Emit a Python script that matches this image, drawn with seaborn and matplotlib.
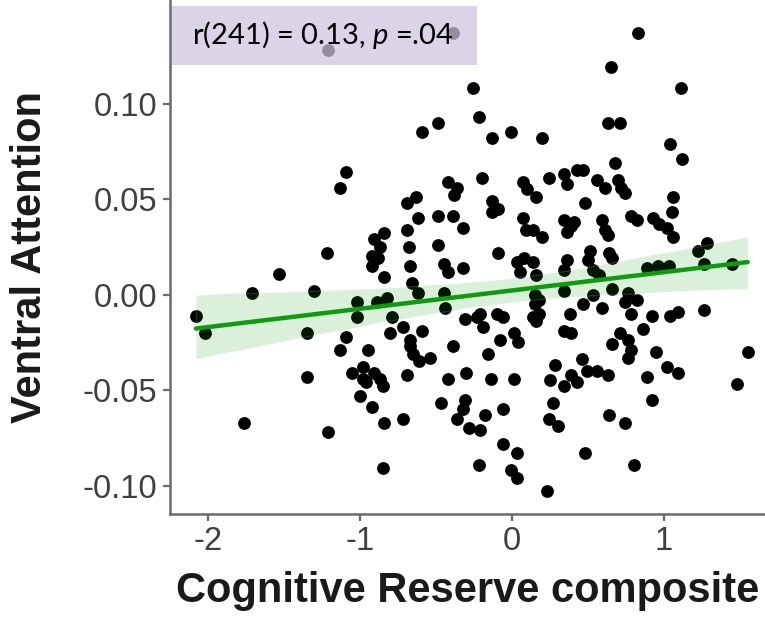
import numpy as np
import pandas as pd
import matplotlib
matplotlib.use('Agg')
import matplotlib.pyplot as plt
from matplotlib.patches import Rectangle
import seaborn as sns

# data: cognitive reserve composite vs ventral attention
cr_composite = [
    -2.08, -2.02, -1.71, -1.53, -1.30, -1.22, -1.35, -1.35, -1.76, -1.21,
    -1.21, -0.39, 0.83, 0.65, 1.11, -0.26, -0.22, 0.63, 0.71,
    -0.59, -0.49, -0.13, -0.01, -1.09, -1.13, -0.63, -0.69, -0.62, -0.49,
    -0.39, -0.42, -0.36, -0.38, -0.20, -0.13, -0.09, -0.13, 0.07, 0.10,
    -0.32, -0.91, -0.84, -0.87, -0.92, -0.92, -0.69, -0.68, -0.49, -0.67,
    -0.45, -0.42, -0.32, -0.09, 0.07, 0.09, 0.03, 0.08, 0.05, -0.84,
    -0.66, -0.62, -0.45, -0.89, -0.82,
    0.20, 1.04, 1.12, 0.68, 0.16, 0.24, 0.34, 0.36, 0.43, 0.47,
    0.56, 0.61, 0.70, 0.72, 0.74, 1.06, 0.48, 0.14, 0.20, 0.34,
    0.41, 0.36, 0.39, 0.59, 0.61, 0.63, 0.78, 0.82, 0.93, 0.97,
    1.02, 1.06, 1.05, 0.14, 0.16, 0.36, 0.34, 0.51, 0.50, 0.53,
    0.57, 0.64, 0.66, 0.89, 0.96, 1.03, 1.28, 1.22, 1.26, 0.15,
    0.34, 0.53, 0.66, 0.76,
    1.45, 1.55, 1.48,
    -1.02, -1.02, -0.79, -0.80, -0.72, -0.59, -0.44, -1.09, -1.13, -0.95,
    -0.67, -0.67, -0.65, -0.61, -0.54, -0.39, -0.31, -0.23, -0.19, -0.21,
    -0.10, -0.06, 0.01, 0.04, -0.08, -0.16, -1.05, -0.98, -0.91, -0.87,
    -0.85, -0.98, -0.69, -0.42, -0.30, -0.14, 0.01, -1.00, -0.92, -0.84,
    -0.72, -0.47, -0.31, -0.32, -0.36, -0.18, -0.06, -0.28, -0.21, -0.06,
    0.03, -0.85, -0.22, -0.01, 0.03,
    0.15, 0.18, 0.14, 0.38, 0.47, 0.59, 0.74, 0.78, 0.82, 0.92,
    0.86, 1.04, 1.09, 1.26, 0.34, 0.39, 0.71, 0.76, 0.66, 0.78,
    0.76, 0.95, 1.02, 1.09, 0.89, 0.92, 0.28, 0.25, 0.34, 0.43,
    0.46, 0.49, 0.56, 0.63, 0.27, 0.24, 0.30, 0.64, 0.74, 0.48,
    0.80, 0.23,
    -0.96, 0.18, 0.16, -0.88, 0.39,
]
ventral_attention = [
    -0.011, -0.020, 0.001, 0.011, 0.002, 0.022, -0.020, -0.043, -0.067, -0.072,
    0.128, 0.137, 0.137, 0.119, 0.108, 0.108, 0.093, 0.090, 0.090,
    0.085, 0.090, 0.082, 0.085, 0.064, 0.056, 0.051, 0.048, 0.040, 0.041,
    0.041, 0.059, 0.056, 0.052, 0.061, 0.049, 0.045, 0.043, 0.059, 0.055,
    0.035, 0.029, 0.032, 0.025, 0.020, 0.015, 0.034, 0.025, 0.026, 0.015,
    0.016, 0.012, 0.014, 0.022, 0.040, 0.034, 0.017, 0.019, 0.012, 0.009,
    0.006, 0.001, 0.001, -0.004, -0.002,
    0.082, 0.079, 0.071, 0.069, 0.051, 0.061, 0.063, 0.058, 0.065, 0.065,
    0.060, 0.056, 0.060, 0.056, 0.053, 0.051, 0.048, 0.034, 0.030, 0.039,
    0.038, 0.033, 0.036, 0.039, 0.034, 0.031, 0.041, 0.039, 0.040, 0.037,
    0.035, 0.030, 0.043, 0.017, 0.010, 0.018, 0.013, 0.023, 0.018, 0.013,
    0.010, 0.022, 0.019, 0.014, 0.015, 0.015, 0.027, 0.023, 0.016, 0.000,
    0.002, 0.000, 0.003, 0.001,
    0.016, -0.030, -0.047,
    -0.004, -0.012, -0.012, -0.020, -0.017, -0.019, -0.007, -0.022, -0.029, -0.029,
    -0.024, -0.027, -0.031, -0.035, -0.033, -0.027, -0.013, -0.012, -0.017, -0.010,
    -0.010, -0.012, -0.020, -0.025, -0.024, -0.031, -0.041, -0.038, -0.041, -0.044,
    -0.048, -0.044, -0.042, -0.044, -0.041, -0.044, -0.044, -0.053, -0.059, -0.067,
    -0.065, -0.057, -0.055, -0.060, -0.065, -0.063, -0.060, -0.070, -0.071, -0.078,
    -0.083, -0.091, -0.089, -0.092, -0.096,
    -0.005, -0.010, -0.012, -0.010, -0.005, -0.007, -0.004, -0.010, -0.003, -0.011,
    -0.018, -0.011, -0.009, -0.008, -0.019, -0.020, -0.020, -0.024, -0.026, -0.029,
    -0.033, -0.030, -0.038, -0.041, -0.043, -0.055, -0.037, -0.045, -0.048, -0.046,
    -0.034, -0.040, -0.040, -0.042, -0.057, -0.065, -0.069, -0.063, -0.067, -0.083,
    -0.089, -0.103,
    -0.046, -0.003, -0.014, 0.019, -0.042,
]

x_ticks = [-2, -1, 0, 1]
x_tick_labels = ['-2', '-1', '0', '1']
y_ticks = [-0.10, -0.05, 0.00, 0.05, 0.10]
y_tick_labels = ['-0.10', '-0.05', '0.00', '0.05', '0.10']
stat_text = 'r(241) = 0.13, $\\mathit{p}$ =.04'

df = pd.DataFrame({'cr': cr_composite, 'va': ventral_attention})

sns.set_theme(style='white')
plt.rcParams['font.family'] = ['Liberation Sans', 'DejaVu Sans']
plt.rcParams['axes.unicode_minus'] = False
plt.rcParams['mathtext.fontset'] = 'custom'
plt.rcParams['mathtext.rm'] = 'Lato'
plt.rcParams['mathtext.it'] = 'Lato:italic'

fig = plt.figure(figsize=(7.65, 6.21), dpi=100)
ax = fig.add_axes([170 / 765, 107 / 621, 595 / 765, 514 / 621])

sns.regplot(data=df, x='cr', y='va', ax=ax, ci=95, seed=1,
            scatter_kws={'color': 'black', 's': 85, 'alpha': 1, 'linewidths': 0},
            line_kws={'color': '#0e9c0e', 'linewidth': 3.2})

ax.set_xlim(-2.25, 1.664)
ax.set_ylim(-0.1149, 0.1542)
ax.set_xticks(x_ticks)
ax.set_xticklabels(x_tick_labels)
ax.set_yticks(y_ticks)
ax.set_yticklabels(y_tick_labels)

for side in ['top', 'right']:
    ax.spines[side].set_visible(False)
for side in ['left', 'bottom']:
    ax.spines[side].set_color('#6b6b6b')
    ax.spines[side].set_linewidth(1.8)

ax.tick_params(axis='both', which='major', length=5, width=1.6, color='#6b6b6b',
               labelsize=23.5, labelcolor='#3f3f3f', pad=4, left=True, bottom=True)
ax.set_xlabel('Cognitive Reserve composite', fontsize=30, fontweight='bold',
              color='#1a1a1a', labelpad=10)
ax.set_ylabel('Ventral Attention', fontsize=30, fontweight='bold',
              color='#1a1a1a', labelpad=24)

# stats box in the top left corner
box = Rectangle((172 / 765, 1 - 65 / 621), 305 / 765, 59 / 621,
                transform=fig.transFigure, facecolor='#cdc4df', edgecolor='none',
                alpha=0.72, zorder=5)
fig.add_artist(box)
fig.text(192 / 765, 1 - 35 / 621, stat_text, fontsize=21, family='Lato',
         color='black', va='center', ha='left', zorder=6)

fig.savefig('out.png', dpi=100)
